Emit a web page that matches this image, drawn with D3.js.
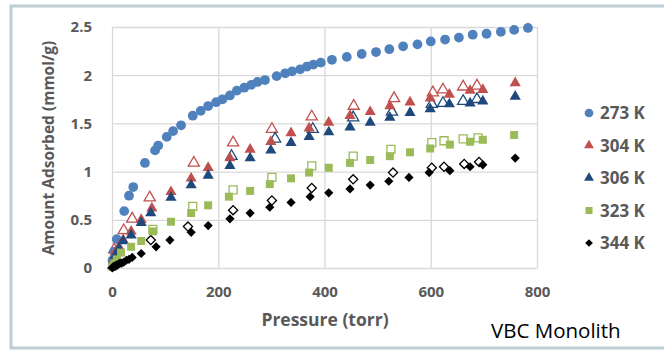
<!DOCTYPE html>
<html>
<head>
<meta charset="utf-8">
<script src="https://cdn.jsdelivr.net/npm/d3@7"></script>
<style>
  body { margin: 0; background: #fff; }
  text { font-family: "Open Sans", sans-serif; }
</style>
</head>
<body>
<div id="chart"></div>
<script>
// Chart data (pressure in torr, amount in mmol/g)
const xTicks = [0, 200, 400, 600, 800];
const yTicks = [0, 0.5, 1, 1.5, 2, 2.5];
const legendLabels = ["273 K", "304 K", "306 K", "323 K", "344 K"];

const p273 = [1, 4, 9, 23, 32, 40, 62, 81, 87, 103, 115, 130, 152, 167, 181, 196, 208, 222, 235, 249, 262, 274, 288, 310, 326, 339, 354, 367, 379, 393, 414, 442, 470, 497, 522, 548, 575, 600, 627, 653, 679, 705, 732, 757, 783];
const q273 = [0.08, 0.17, 0.30, 0.59, 0.75, 0.84, 1.09, 1.22, 1.27, 1.36, 1.42, 1.48, 1.58, 1.63, 1.68, 1.72, 1.75, 1.79, 1.84, 1.87, 1.90, 1.93, 1.95, 1.99, 2.02, 2.04, 2.06, 2.09, 2.11, 2.13, 2.16, 2.19, 2.22, 2.24, 2.27, 2.30, 2.32, 2.35, 2.37, 2.39, 2.42, 2.43, 2.45, 2.47, 2.49];

const p304 = [1, 3, 6, 13, 21, 36, 55, 75, 111, 149, 181, 222, 260, 299, 337, 371, 408, 448, 486, 523, 561, 599, 635, 674, 698, 759];
const q304 = [0.03, 0.08, 0.16, 0.22, 0.29, 0.38, 0.50, 0.62, 0.79, 0.93, 1.04, 1.14, 1.23, 1.31, 1.40, 1.45, 1.51, 1.58, 1.62, 1.68, 1.72, 1.76, 1.80, 1.84, 1.85, 1.92];
const p304d = [4, 22, 38, 71, 154, 228, 301, 376, 455, 531, 604, 623, 661, 687];
const q304d = [0.19, 0.39, 0.51, 0.73, 1.09, 1.30, 1.44, 1.57, 1.68, 1.76, 1.82, 1.85, 1.88, 1.89];

const p306 = [1, 3, 6, 13, 21, 36, 55, 73, 111, 149, 181, 222, 260, 299, 337, 371, 408, 448, 486, 523, 561, 599, 635, 674, 698, 759];
const q306 = [0.02, 0.07, 0.13, 0.20, 0.28, 0.34, 0.47, 0.57, 0.73, 0.86, 0.96, 1.06, 1.14, 1.22, 1.30, 1.36, 1.41, 1.46, 1.51, 1.56, 1.61, 1.65, 1.70, 1.71, 1.73, 1.78];
const p306d = [225, 307, 378, 454, 527, 602, 623, 661, 687];
const q306d = [1.16, 1.34, 1.44, 1.56, 1.62, 1.70, 1.71, 1.73, 1.75];

const p323 = [1, 3, 5, 9, 17, 36, 55, 77, 111, 149, 181, 220, 260, 297, 337, 371, 408, 448, 486, 523, 561, 599, 636, 674, 698, 757];
const q323 = [0.01, 0.03, 0.05, 0.09, 0.16, 0.22, 0.28, 0.38, 0.48, 0.57, 0.65, 0.74, 0.80, 0.87, 0.93, 0.99, 1.04, 1.09, 1.12, 1.16, 1.20, 1.24, 1.28, 1.31, 1.33, 1.38];
const p323d = [77, 152, 228, 301, 376, 454, 525, 602, 625, 661, 689];
const q323d = [0.40, 0.64, 0.81, 0.94, 1.06, 1.16, 1.23, 1.30, 1.32, 1.34, 1.35];

const p344 = [0.5, 1.5, 3, 4.5, 6, 8, 10, 12, 15, 18, 22, 27, 32, 38, 55, 83, 109, 149, 181, 222, 260, 297, 337, 373, 408, 448, 486, 521, 559, 597, 636, 674, 698, 759];
const q344 = [0.00, 0.01, 0.01, 0.02, 0.02, 0.03, 0.03, 0.04, 0.05, 0.05, 0.06, 0.08, 0.09, 0.11, 0.15, 0.22, 0.29, 0.37, 0.44, 0.51, 0.57, 0.63, 0.68, 0.74, 0.78, 0.82, 0.86, 0.90, 0.94, 0.99, 1.01, 1.05, 1.07, 1.14];
const p344d = [73, 143, 228, 301, 376, 454, 529, 602, 625, 663, 691];
const q344d = [0.29, 0.43, 0.60, 0.70, 0.83, 0.92, 0.99, 1.04, 1.05, 1.08, 1.10];

const width = 664;
const height = 351;
const margin = { left: 112, right: 127, top: 27, bottom: 83 };

const svg = d3.select("#chart")
    .append("svg")
    .attr("width", width)
    .attr("height", height);

// outer frame
svg.append("rect")
    .attr("x", 11).attr("y", 6)
    .attr("width", 700).attr("height", 342)
    .attr("fill", "#fff")
    .attr("stroke", "#bfcdd5")
    .attr("stroke-width", 3);

const x = d3.scaleLinear().domain([0, 800]).range([margin.left, width - margin.right]);
const y = d3.scaleLinear().domain([0, 2.5]).range([height - margin.bottom, margin.top]);

// grid
svg.append("g")
    .attr("transform", `translate(0,${y(0)})`)
    .call(d3.axisBottom(x).tickValues(xTicks).tickSize(-(y(0) - y(2.5))).tickFormat(""))
    .call(g => g.select(".domain").remove())
    .call(g => g.selectAll("line").attr("stroke", "#d9d9d9").attr("stroke-width", 1.3));

svg.append("g")
    .attr("transform", `translate(${x(0)},0)`)
    .call(d3.axisLeft(y).tickValues(yTicks).tickSize(-(x(800) - x(0))).tickFormat(""))
    .call(g => g.select(".domain").remove())
    .call(g => g.selectAll("line").attr("stroke", "#d9d9d9").attr("stroke-width", 1.3));

// tick labels
svg.append("g")
    .attr("transform", `translate(0,${y(0)})`)
    .call(d3.axisBottom(x).tickValues(xTicks).tickSize(0).tickPadding(18))
    .call(g => g.select(".domain").remove())
    .call(g => g.selectAll("text")
        .attr("fill", "#595959")
        .style("font-size", "15px")
        .style("font-weight", "bold"));

svg.append("g")
    .attr("transform", `translate(${x(0)},0)`)
    .call(d3.axisLeft(y).tickValues(yTicks).tickSize(0).tickPadding(20).tickFormat(d3.format("")))
    .call(g => g.select(".domain").remove())
    .call(g => g.selectAll("text")
        .attr("fill", "#595959")
        .style("font-size", "15px")
        .style("font-weight", "bold"));

// axis titles
svg.append("text")
    .attr("x", 325).attr("y", 326)
    .attr("text-anchor", "middle")
    .attr("fill", "#595959")
    .style("font-size", "17.5px")
    .style("font-weight", "bold")
    .text("Pressure (torr)");

svg.append("text")
    .attr("transform", `translate(54,148) rotate(-90)`)
    .attr("text-anchor", "middle")
    .attr("fill", "#595959")
    .style("font-size", "15.5px")
    .style("font-weight", "bold")
    .text("Amount Adsorbed (mmol/g)");

svg.append("text")
    .attr("x", 491).attr("y", 338)
    .attr("fill", "#000")
    .style("font-size", "20.5px")
    .text("VBC Monolith");

// series: desorption (open) drawn first, adsorption (filled) on top
const series = [
    { p: p304d, q: q304d, shape: "tri", color: "#c0504d", open: true },
    { p: p306d, q: q306d, shape: "tri", color: "#1f497d", open: true },
    { p: p323d, q: q323d, shape: "sq", color: "#9bbb59", open: true },
    { p: p344d, q: q344d, shape: "dia", color: "#000", open: true },
    { p: p273, q: q273, shape: "circ", color: "#4f81bd", open: false },
    { p: p304, q: q304, shape: "tri", color: "#c0504d", open: false },
    { p: p306, q: q306, shape: "tri", color: "#1f497d", open: false },
    { p: p323, q: q323, shape: "sq", color: "#9bbb59", open: false },
    { p: p344, q: q344, shape: "dia", color: "#000", open: false }
];

const shapes = {
    circ: d3.symbol(d3.symbolCircle, 75)(),
    tri: d3.symbol(d3.symbolTriangle, 54)(),
    sq: d3.symbol(d3.symbolSquare, 64)(),
    dia: d3.symbol(d3.symbolSquare, 42)()
};

series.forEach(s => {
    svg.append("g")
        .selectAll("path")
        .data(s.p.map((v, i) => [v, s.q[i]]))
        .join("path")
        .attr("d", shapes[s.shape])
        .attr("transform", d => `translate(${x(d[0])},${y(d[1])})` + (s.shape === "dia" ? " rotate(45)" : ""))
        .attr("fill", s.open ? "#fff" : s.color)
        .attr("stroke", s.open ? s.color : "none")
        .attr("stroke-width", 1.3);
});

// legend
const legendColors = ["#4f81bd", "#c0504d", "#1f497d", "#9bbb59", "#000"];
const legendShapes = ["circ", "tri", "tri", "sq", "dia"];
const legendSmall = {
    circ: d3.symbol(d3.symbolCircle, 60)(),
    tri: d3.symbol(d3.symbolTriangle, 42)(),
    sq: d3.symbol(d3.symbolSquare, 50)(),
    dia: d3.symbol(d3.symbolSquare, 30)()
};

const legend = svg.append("g")
    .selectAll("g")
    .data(legendLabels)
    .join("g")
    .attr("transform", (d, i) => `translate(589,${113 + i * 32.5})`);

legend.append("path")
    .attr("d", (d, i) => legendSmall[legendShapes[i]])
    .attr("transform", (d, i) => legendShapes[i] === "dia" ? "rotate(45)" : "")
    .attr("fill", (d, i) => legendColors[i]);

legend.append("text")
    .attr("x", 11)
    .attr("dy", "0.36em")
    .attr("fill", "#595959")
    .style("font-size", "17px")
    .style("font-weight", "bold")
    .text(d => d);
</script>
</body>
</html>
